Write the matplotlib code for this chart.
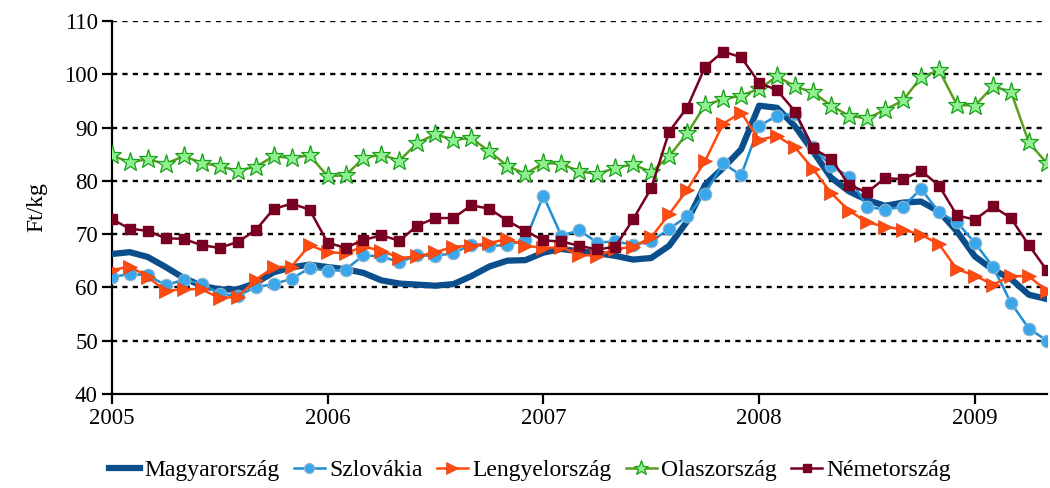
import matplotlib
matplotlib.use("Agg")
import matplotlib.pyplot as plt
import numpy as np

plt.rcParams['font.family'] = ['Liberation Serif', 'DejaVu Serif']

year_labels = ['2005', '2006', '2007', '2008', '2009']

magyarorszag = [66.25, 66.6, 65.7, 63.8, 61.75, 60.3, 59.6, 59.6, 60.8, 62.8, 63.75, 64.25,
                63.8, 63.4, 62.7, 61.3, 60.7, 60.5, 60.3, 60.6, 62.1, 63.9, 65.0, 65.1,
                66.5, 67.2, 66.75, 66.4, 65.9, 65.2, 65.5, 67.8, 72.4, 79.25, 82.4, 85.9,
                94.1, 93.7, 90.2, 85.5, 80.6, 78.0, 76.4, 75.3, 75.9, 76.1, 74.25, 70.5,
                65.8, 63.3, 61.6, 58.6, 57.8]

szlovakia = [61.9, 62.5, 62.25, 60.4, 61.4, 60.7, 58.8, 58.4, 60.0, 60.6, 61.6, 63.6,
             63.1, 63.3, 66.0, 65.8, 64.7, 66.0, 65.9, 66.4, 68.0, 67.7, 68.0, 68.8,
             77.2, 69.7, 70.7, 68.4, 68.6, 68.0, 68.6, 71.0, 73.3, 77.6, 83.3, 81.0,
             90.3, 92.2, 92.6, 86.25, 82.8, 80.8, 75.1, 74.6, 75.1, 78.5, 74.1, 72.25,
             68.3, 63.9, 57.1, 52.25, 50.0]

lengyelorszag = [63.2, 63.9, 62.0, 59.25, 59.7, 59.6, 58.0, 58.2, 61.4, 63.75, 63.9, 67.9,
                 66.6, 66.4, 67.6, 66.9, 65.5, 65.8, 66.6, 67.6, 67.8, 68.3, 69.1, 67.8,
                 67.4, 67.5, 66.1, 65.9, 67.2, 67.6, 69.4, 73.75, 78.3, 83.75, 90.7, 92.8,
                 87.7, 88.4, 86.25, 82.2, 77.7, 74.4, 72.2, 71.4, 70.8, 69.9, 68.1, 63.4,
                 62.2, 60.5, 62.1, 62.1, 59.25]

olaszorszag = [84.75, 83.5, 84.0, 83.2, 84.6, 83.4, 82.7, 81.9, 82.6, 84.6, 84.3, 84.75,
               80.9, 81.0, 84.25, 84.9, 83.8, 87.1, 88.75, 87.7, 88.0, 85.5, 82.8, 81.3,
               83.3, 83.2, 81.75, 81.3, 82.4, 83.1, 81.6, 84.6, 88.9, 94.25, 95.3, 96.0,
               97.25, 99.6, 97.7, 96.6, 94.1, 92.2, 91.7, 93.3, 95.1, 99.4, 100.8, 94.25,
               94.1, 97.7, 96.75, 87.2, 83.3]

nemetorszag = [72.8, 71.0, 70.6, 69.2, 69.1, 67.9, 67.4, 68.5, 70.7, 74.7, 75.7, 74.6,
               68.4, 67.4, 68.9, 69.75, 68.75, 71.6, 73.0, 73.0, 75.4, 74.75, 72.5, 70.6,
               68.8, 68.6, 67.8, 67.1, 67.6, 72.8, 78.6, 89.25, 93.75, 101.4, 104.25, 103.2,
               98.4, 97.0, 93.0, 86.1, 84.1, 79.25, 77.8, 80.5, 80.3, 81.9, 79.1, 73.5,
               72.7, 75.2, 73.0, 67.9, 63.2]

x = np.arange(len(magyarorszag))

fig = plt.figure(figsize=(10.5, 4.88), dpi=100)
ax = fig.add_axes([0.1064, 0.193, 0.8906, 0.764])

for yv in range(50, 111, 10):
    ax.axhline(yv, color='black', linestyle=(0, (2.2, 2.2)), linewidth=1.7, zorder=1)

ax.plot(x, magyarorszag, color='#0a4f8c', linewidth=4.5, label='Magyarország', zorder=4,
        solid_joinstyle='round')
ax.plot(x, szlovakia, color='#1f8fd6', linewidth=1.8, marker='o', markersize=9,
        markerfacecolor='#3aa6ec', markeredgecolor='#8fb6cc', markeredgewidth=0.8,
        label='Szlovákia', zorder=5)
ax.plot(x, lengyelorszag, color='#ff4a10', linewidth=1.8, marker='>', markersize=10,
        markerfacecolor='#ff4a10', markeredgecolor='#e04010', markeredgewidth=0.5,
        label='Lengyelország', zorder=5)
ax.plot(x, olaszorszag, color='#5b9e1f', linewidth=1.8, marker='*', markersize=14,
        markerfacecolor='#8ff08f', markeredgecolor='#1aa01a', markeredgewidth=0.9,
        label='Olaszország', zorder=5)
ax.plot(x, nemetorszag, color='#780020', linewidth=1.8, marker='s', markersize=7,
        markerfacecolor='#780020', markeredgecolor='#780020',
        label='Németország', zorder=5)

ax.set_xlim(0, len(magyarorszag) - 1)
ax.set_ylim(40, 110)
ax.set_yticks(range(40, 111, 10))
ax.set_xticks([0, 12, 24, 36, 48])
ax.set_xticklabels(year_labels)

for s in ['top', 'right']:
    ax.spines[s].set_visible(False)
for s in ['left', 'bottom']:
    ax.spines[s].set_linewidth(1.6)
    ax.spines[s].set_color('black')
ax.spines['bottom'].set_zorder(6)

ax.tick_params(axis='both', direction='out', length=7, width=1.6, labelsize=16.5, colors='black')
ax.tick_params(axis='x', pad=3)
ax.tick_params(axis='y', pad=3)
ax.set_ylabel('Ft/kg', fontsize=17, labelpad=12)

leg = fig.legend(loc='lower center', bbox_to_anchor=(0.505, -0.03), ncol=5, frameon=False,
                 fontsize=17, handlelength=1.3, handletextpad=0.2, columnspacing=0.6,
                 numpoints=1, markerscale=0.8)

fig.savefig('out.png', dpi=100)
